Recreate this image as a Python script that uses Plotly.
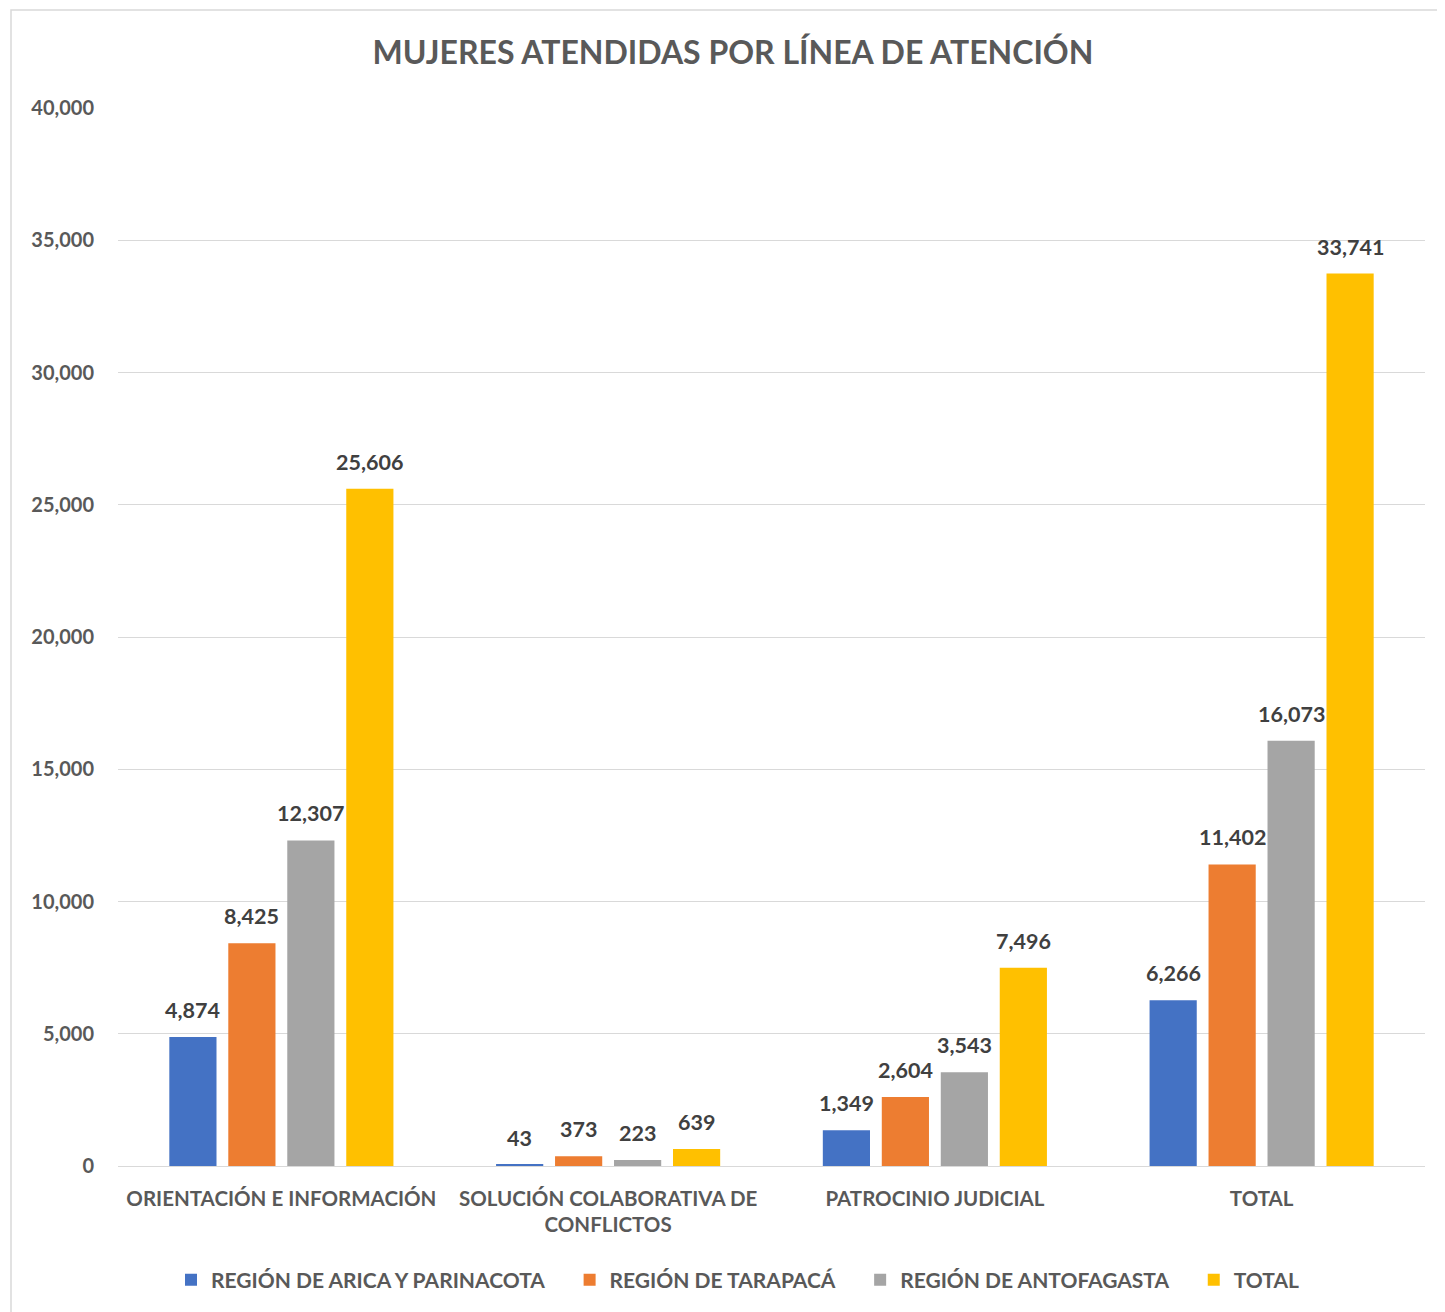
import plotly.graph_objects as go

categories = ["ORIENTACIÓN E INFORMACIÓN", "SOLUCIÓN COLABORATIVA DE<br>CONFLICTOS", "PATROCINIO JUDICIAL", "TOTAL"]
series_names = ["REGIÓN DE ARICA Y PARINACOTA", "REGIÓN DE TARAPACÁ", "REGIÓN DE ANTOFAGASTA", "TOTAL"]
arica = [4874, 43, 1349, 6266]
tarapaca = [8425, 373, 2604, 11402]
antofagasta = [12307, 223, 3543, 16073]
total = [25606, 639, 7496, 33741]
colors = ["#4472C4", "#ED7D31", "#A5A5A5", "#FFC000"]
tick_vals = [0, 5000, 10000, 15000, 20000, 25000, 30000, 35000, 40000]

FONT = "Lato, 'Open Sans', sans-serif"
BARGAP = 0.278
all_series = [arica, tarapaca, antofagasta, total]
n = len(all_series)

fig = go.Figure()
pad = "\u00a0" * 4
for i, (name, vals, c) in enumerate(zip(series_names, all_series, colors)):
    fig.add_trace(go.Bar(
        name=name + (pad if i < n - 1 else ""), x=categories, y=vals,
        marker_color=c, marker_line_width=0,
    ))

# data labels as annotations above each bar
slot = (1 - BARGAP) / n
annotations = []
for i, vals in enumerate(all_series):
    off = (i - (n - 1) / 2) * slot
    for j, v in enumerate(vals):
        annotations.append(dict(
            x=j + off, y=v, xref="x", yref="y", text=f"<b>{v:,}</b>", showarrow=False,
            yanchor="bottom", yshift=12,
            font=dict(family=FONT, size=21.5, color="#404040"),
        ))

OFF = 8  # page body offset
W, H = 1437, 1304
ml, mr, mt, mb = 110, 20, 100, 146
pw, ph = W - ml - mr, H - mt - mb
def px(x): return (x - OFF - ml) / pw
def py(y): return (H - mb - (y - OFF)) / ph

fig.update_layout(
    width=W, height=H, barmode="group", bargap=BARGAP, bargroupgap=0.2,
    plot_bgcolor="white", paper_bgcolor="white",
    margin=dict(l=ml, r=mr, t=mt, b=mb),
    title=dict(text="<b>MUJERES ATENDIDAS POR LÍNEA DE ATENCIÓN</b>", x=(733 - OFF) / W, xanchor="center",
               y=1 - (53 - OFF) / H, yanchor="middle",
               font=dict(family=FONT, size=32, color="#595959")),
    font=dict(family=FONT, color="#595959"),
    legend=dict(orientation="h", x=px(738), xanchor="center", y=py(1280), yanchor="middle",
                font=dict(family=FONT, size=21, color="#595959", weight="bold"),
                itemwidth=30, traceorder="normal"),
    xaxis=dict(showgrid=False, showline=True, linecolor="#D9D9D9", linewidth=1, ticks="",
               ticklabelstandoff=14,
               tickfont=dict(family=FONT, size=20.5, color="#595959", weight="bold")),
    yaxis=dict(range=[0, 40000], tickvals=tick_vals, tickformat=",", showgrid=True,
               gridcolor="#D9D9D9", gridwidth=1, zeroline=False, showline=False, ticks="",
               ticklabelstandoff=23,
               tickfont=dict(family=FONT, size=20, color="#595959", weight="bold")),
    annotations=annotations,
    shapes=[dict(type="rect", xref="paper", yref="paper", x0=px(11), x1=px(1500), y0=py(1400), y1=py(10),
                 line=dict(color="#D9D9D9", width=1.5), fillcolor="rgba(0,0,0,0)", layer="below")],
)
fig.write_html("out.html")
